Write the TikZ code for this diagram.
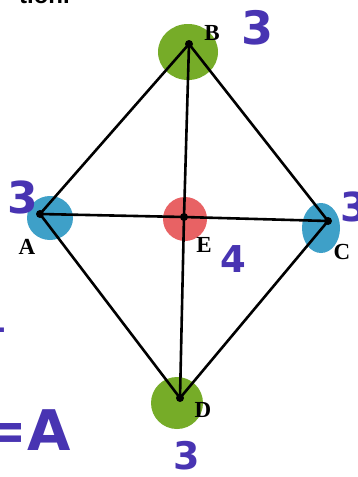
\documentclass[tikz,border=0pt]{standalone}
\usepackage{fontspec}
\newfontfamily\handfont{DejaVu Sans}
\newfontfamily\headfont{Liberation Sans}
\newfontfamily\labfont{Liberation Serif}
\begin{document}
\begin{tikzpicture}[x=1pt,y=-1pt,
  edge/.style={line width=2.6pt,black},
  vlabel/.style={font=\labfont\bfseries\fontsize{23}{23}\selectfont,text=black,inner sep=0pt},
  hand/.style={font=\handfont\bfseries\fontsize{46}{46}\selectfont,text=handblue,inner sep=0pt},
  dot/.style={circle,fill=black,inner sep=0pt,minimum size=8pt}]
\definecolor{handblue}{RGB}{72,52,178}
\definecolor{vgreen}{RGB}{118,172,40}
\definecolor{vblue}{RGB}{62,160,200}
\definecolor{vred}{RGB}{232,98,100}
\useasboundingbox (0,0) rectangle (357,477);
\fill[white] (0,0) rectangle (357,477);
% colour marks
\fill[vgreen] (188,52) ellipse (30pt and 28pt);
\fill[vblue] (50,218) ellipse (23pt and 22pt);
\fill[vred] (185,219) circle (22pt);
\fill[vblue] (321,228) ellipse (19pt and 25pt);
\fill[vgreen] (177,403) ellipse (26pt and 26pt);
% vertices
\coordinate (B) at (189,44);
\coordinate (A) at (40,214);
\coordinate (C) at (328,221);
\coordinate (E) at (184,217);
\coordinate (D) at (180,398);
\draw[edge,line join=round] (A) -- (B) -- (C) -- (D) -- cycle;
\draw[edge] (A) -- (E) -- (C);
\draw[edge] (B) -- (E) -- (D);
\foreach \v in {A,B,C,D,E} \node[dot] at (\v) {};
% vertex labels
\node[vlabel] (lB) at (212,33) {B};
\node[vlabel] (lA) at (27,247) {A};
\node[vlabel] (lE) at (204,245) {E};
\node[vlabel] (lC) at (342,252) {C};
\node[vlabel] (lD) at (203,410) {D};
% handwritten counts
\node[hand] (nB) at (258,28) {3};
\node[hand,font=\handfont\bfseries\fontsize{44}{44}\selectfont] (nA) at (23,197) {3};
\node[hand,font=\handfont\bfseries\fontsize{37}{37}\selectfont] (nE) at (233,259) {4};
\node[hand,font=\handfont\bfseries\fontsize{40}{40}\selectfont] (nC) at (354,207) {3};
\node[hand,font=\handfont\bfseries\fontsize{38}{38}\selectfont] (nD) at (187,456) {3};
\node[hand,font=\handfont\bfseries\fontsize{56}{56}\selectfont,anchor=base west] (eqA) at (-20,450) {=A};
\node[hand,font=\handfont\bfseries\fontsize{24}{24}\selectfont] (tick) at (2,330) {.};
% top cut-off heading
\node[font=\headfont\fontsize{24}{24}\selectfont\bfseries,anchor=base east,inner sep=0pt] (head) at (70,3) {tion.};
\end{tikzpicture}
\end{document}
